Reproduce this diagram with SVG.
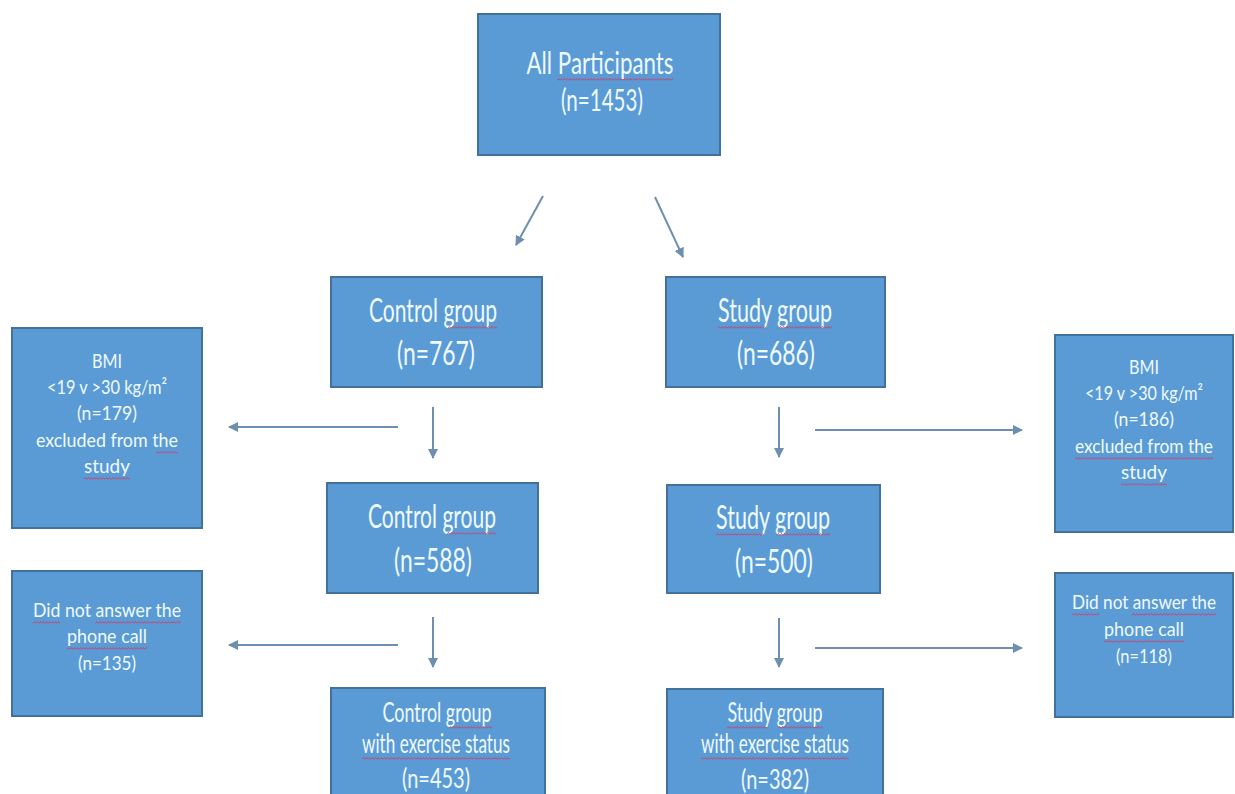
<svg xmlns="http://www.w3.org/2000/svg" width="1235" height="794" viewBox="0 0 1235 794">
<style>
.box{fill:#5b9bd5;stroke:#41719c;stroke-width:2}
.t{font-family:Lato,"Open Sans",sans-serif;fill:#eefaff;text-anchor:middle}
.f30{font-size:30px}
.f33{font-size:33px}
.f26{font-size:26px}
.f21{font-size:20px}
.f19{font-size:19px}
.c{stroke:#6f8fb0;stroke-width:2;fill:none;marker-end:url(#ah)}
.sq{fill:url(#sq)}
</style>
<defs>
<marker id="ah" viewBox="0 0 10 10" refX="9" refY="5" markerWidth="5" markerHeight="5" orient="auto" markerUnits="strokeWidth">
<path d="M0,0 L10,5 L0,10 z" fill="#6f8fb0"/>
</marker>
<pattern id="sq" x="0" y="0" width="3" height="3" patternUnits="userSpaceOnUse">
<path d="M0,2.5 L1.5,0.5 L3,2.5" fill="none" stroke="#c8406a" stroke-width="0.9"/>
</pattern>
</defs>
<rect width="1235" height="794" fill="#ffffff"/>
<g id="connectors">
<line class="c" x1="543" y1="196" x2="516" y2="245"/>
<line class="c" x1="655" y1="197" x2="683" y2="257"/>
<line class="c" x1="398" y1="427" x2="229" y2="427"/>
<line class="c" x1="433" y1="407" x2="433" y2="458"/>
<line class="c" x1="779" y1="407" x2="779" y2="457"/>
<line class="c" x1="815" y1="430" x2="1022" y2="430"/>
<line class="c" x1="398" y1="645" x2="229" y2="645"/>
<line class="c" x1="433" y1="617" x2="433" y2="667"/>
<line class="c" x1="779" y1="618" x2="779" y2="667"/>
<line class="c" x1="815" y1="648" x2="1022" y2="648"/>
</g>
<g id="all">
<rect class="box" x="478" y="14" width="242" height="141"/>
<text class="t f30" x="600" y="74" textLength="147" lengthAdjust="spacingAndGlyphs">All Participants</text>
<text class="t f30" x="602" y="111" textLength="82" lengthAdjust="spacingAndGlyphs">(n=1453)</text>
<rect class="sq" transform="translate(557,78)" width="116" height="3"/>
</g>
<g id="control1">
<rect class="box" x="331" y="277" width="211" height="110"/>
<text class="t f33" x="433" y="322" textLength="128" lengthAdjust="spacingAndGlyphs">Control group</text>
<text class="t f33" x="436" y="365" textLength="78" lengthAdjust="spacingAndGlyphs">(n=767)</text>
<rect class="sq" transform="translate(448,326)" width="49" height="3"/>
</g>
<g id="study1">
<rect class="box" x="666" y="277" width="219" height="110"/>
<text class="t f33" x="775" y="322" textLength="114" lengthAdjust="spacingAndGlyphs">Study group</text>
<text class="t f33" x="776" y="365" textLength="78" lengthAdjust="spacingAndGlyphs">(n=686)</text>
<rect class="sq" transform="translate(718,326)" width="48" height="3"/>
<rect class="sq" transform="translate(779,326)" width="53" height="3"/>
</g>
<g id="bmiL">
<rect class="box" x="12" y="328" width="190" height="200"/>
<text class="t f21" x="107" y="368" textLength="30" lengthAdjust="spacingAndGlyphs">BMI</text>
<text class="t f21" x="107" y="394" textLength="120" lengthAdjust="spacingAndGlyphs">&lt;19 v &gt;30 kg/m²</text>
<text class="t f21" x="107" y="420" textLength="60" lengthAdjust="spacingAndGlyphs">(n=179)</text>
<text class="t f21" x="107" y="447" textLength="142" lengthAdjust="spacingAndGlyphs">excluded from the</text>
<text class="t f21" x="107" y="473" textLength="46" lengthAdjust="spacingAndGlyphs">study</text>
<rect class="sq" transform="translate(156,451)" width="22" height="3"/>
<rect class="sq" transform="translate(84,477)" width="46" height="3"/>
</g>
<g id="bmiR">
<rect class="box" x="1055" y="335" width="178" height="197"/>
<text class="t f21" x="1144" y="374" textLength="30" lengthAdjust="spacingAndGlyphs">BMI</text>
<text class="t f21" x="1144" y="400" textLength="118" lengthAdjust="spacingAndGlyphs">&lt;19 v &gt;30 kg/m²</text>
<text class="t f21" x="1144" y="426" textLength="60" lengthAdjust="spacingAndGlyphs">(n=186)</text>
<text class="t f21" x="1144" y="453" textLength="138" lengthAdjust="spacingAndGlyphs">excluded from the</text>
<text class="t f21" x="1144" y="479" textLength="46" lengthAdjust="spacingAndGlyphs">study</text>
<rect class="sq" transform="translate(1075,457)" width="138" height="3"/>
<rect class="sq" transform="translate(1121,483)" width="46" height="3"/>
</g>
<g id="control2">
<rect class="box" x="327" y="483" width="211" height="110"/>
<text class="t f33" x="432" y="528" textLength="128" lengthAdjust="spacingAndGlyphs">Control group</text>
<text class="t f33" x="433" y="572" textLength="78" lengthAdjust="spacingAndGlyphs">(n=588)</text>
<rect class="sq" transform="translate(447,532)" width="49" height="3"/>
</g>
<g id="study2">
<rect class="box" x="667" y="485" width="213" height="108"/>
<text class="t f33" x="773" y="529" textLength="114" lengthAdjust="spacingAndGlyphs">Study group</text>
<text class="t f33" x="774" y="573" textLength="78" lengthAdjust="spacingAndGlyphs">(n=500)</text>
<rect class="sq" transform="translate(716,533)" width="48" height="3"/>
<rect class="sq" transform="translate(777,533)" width="53" height="3"/>
</g>
<g id="noansL">
<rect class="box" x="12" y="571" width="190" height="145"/>
<text class="t f21" x="107" y="617" textLength="148" lengthAdjust="spacingAndGlyphs">Did not answer the</text>
<text class="t f21" x="107" y="643" textLength="80" lengthAdjust="spacingAndGlyphs">phone call</text>
<text class="t f21" x="107" y="670" textLength="58" lengthAdjust="spacingAndGlyphs">(n=135)</text>
<rect class="sq" transform="translate(33,621)" width="27" height="3"/>
<rect class="sq" transform="translate(95,621)" width="86" height="3"/>
<rect class="sq" transform="translate(67,647)" width="80" height="3"/>
</g>
<g id="noansR">
<rect class="box" x="1055" y="573" width="178" height="144"/>
<text class="t f19" x="1144" y="609" textLength="144" lengthAdjust="spacingAndGlyphs">Did not answer the</text>
<text class="t f19" x="1144" y="636" textLength="80" lengthAdjust="spacingAndGlyphs">phone call</text>
<text class="t f19" x="1144" y="663" textLength="56" lengthAdjust="spacingAndGlyphs">(n=118)</text>
<rect class="sq" transform="translate(1072,613)" width="27" height="3"/>
<rect class="sq" transform="translate(1132,613)" width="84" height="3"/>
<rect class="sq" transform="translate(1104,640)" width="80" height="3"/>
</g>
<g id="control3">
<rect class="box" x="331" y="688" width="214" height="110"/>
<text class="t f26" x="437" y="722" textLength="109" lengthAdjust="spacingAndGlyphs">Control group</text>
<text class="t f26" x="436" y="753" textLength="148" lengthAdjust="spacingAndGlyphs">with exercise status</text>
<text class="t f26" x="436" y="788" textLength="68" lengthAdjust="spacingAndGlyphs">(n=453)</text>
<rect class="sq" transform="translate(449,726)" width="43" height="3"/>
<rect class="sq" transform="translate(362,757)" width="148" height="3"/>
</g>
<g id="study3">
<rect class="box" x="667" y="689" width="216" height="110"/>
<text class="t f26" x="775" y="722" textLength="95" lengthAdjust="spacingAndGlyphs">Study group</text>
<text class="t f26" x="775" y="753" textLength="148" lengthAdjust="spacingAndGlyphs">with exercise status</text>
<text class="t f26" x="775" y="789" textLength="68" lengthAdjust="spacingAndGlyphs">(n=382)</text>
<rect class="sq" transform="translate(727,726)" width="40" height="3"/>
<rect class="sq" transform="translate(778,726)" width="45" height="3"/>
<rect class="sq" transform="translate(701,757)" width="148" height="3"/>
</g>
</svg>
